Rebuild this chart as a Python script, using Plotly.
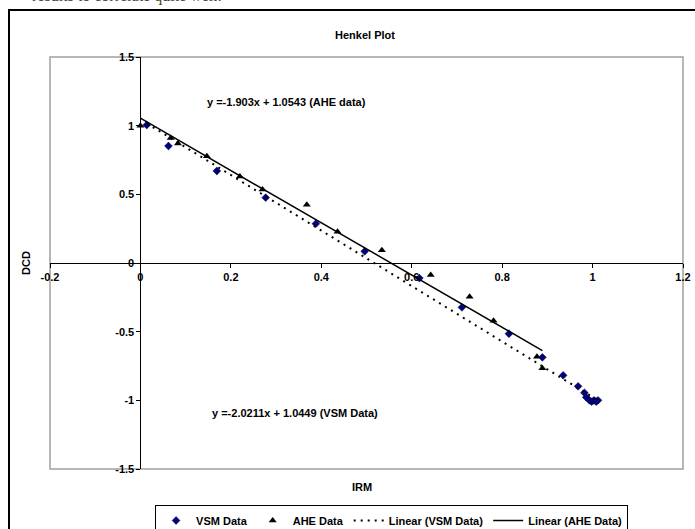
import plotly.graph_objects as go

# ---- data ----
vsm_x = [0.014, 0.062, 0.169, 0.277, 0.388, 0.496, 0.617, 0.711, 0.815, 0.889,
         0.935, 0.968, 0.982, 0.986, 0.993, 0.998, 1.003, 1.008, 1.012]
vsm_y = [1.005, 0.852, 0.670, 0.476, 0.286, 0.085, -0.110, -0.323, -0.515, -0.687,
         -0.818, -0.898, -0.945, -0.978, -1.000, -1.010, -1.000, -1.010, -1.000]

ahe_x = [0.000, 0.067, 0.083, 0.147, 0.220, 0.270, 0.368, 0.436, 0.534, 0.642,
         0.728, 0.781, 0.877, 0.889]
ahe_y = [1.000, 0.910, 0.870, 0.777, 0.630, 0.535, 0.425, 0.228, 0.092, -0.087,
         -0.245, -0.420, -0.682, -0.767]

# trendline equations (as printed on the chart)
vsm_slope, vsm_intercept = -2.0211, 1.0449
ahe_slope, ahe_intercept = -1.903, 1.0543
vsm_fit_x = [min(vsm_x), max(vsm_x)]
ahe_fit_x = [min(ahe_x), max(ahe_x)]
vsm_fit_y = [vsm_slope * v + vsm_intercept for v in vsm_fit_x]
ahe_fit_y = [ahe_slope * v + ahe_intercept for v in ahe_fit_x]

x_ticks = [-0.2, 0, 0.2, 0.4, 0.6, 0.8, 1, 1.2]
x_labels = ["-0.2", "0", "0.2", "0.4", "0.6", "0.8", "1", "1.2"]
y_ticks = [-1.5, -1, -0.5, 0, 0.5, 1, 1.5]
y_labels = ["-1.5", "-1", "-0.5", "0", "0.5", "1", "1.5"]

FONT = "Arial, Liberation Sans, sans-serif"

fig = go.Figure()
fig.add_trace(go.Scatter(x=vsm_x, y=vsm_y, mode="markers", name="VSM Data",
                         marker=dict(symbol="diamond", size=6, color="#000080",
                                     line=dict(color="#000033", width=0.5))))
fig.add_trace(go.Scatter(x=ahe_x, y=ahe_y, mode="markers", name="AHE Data",
                         marker=dict(symbol="triangle-up", size=7, color="black")))
fig.add_trace(go.Scatter(x=vsm_fit_x, y=vsm_fit_y, mode="lines", name="Linear (VSM Data)",
                         line=dict(color="black", width=2, dash="2px,5px")))
fig.add_trace(go.Scatter(x=ahe_fit_x, y=ahe_fit_y, mode="lines", name="Linear (AHE Data)",
                         line=dict(color="black", width=1.5)))

fig.update_layout(
    width=695, height=529,
    margin=dict(l=50, r=12, t=57, b=60, autoexpand=False),
    paper_bgcolor="white", plot_bgcolor="white",
    font=dict(family=FONT, size=11, color="black"),
    showlegend=True,
    legend=dict(orientation="h", x=0.166, y=-0.0874, xanchor="left", yanchor="top",
                bgcolor="white", bordercolor="black", borderwidth=1,
                font=dict(family=FONT, size=11, color="black", weight="bold"),
                tracegroupgap=0, itemwidth=30),
    xaxis=dict(range=[-0.2, 1.2], anchor="free", position=0.5, automargin=False,
               showgrid=False, zeroline=False, showline=True, linecolor="black", linewidth=1,
               ticks="outside", ticklen=4, tickcolor="black",
               tickvals=x_ticks, ticktext=x_labels,
               tickfont=dict(family=FONT, size=11, color="black", weight="bold")),
    yaxis=dict(range=[-1.5, 1.5], anchor="free", position=0.2 / 1.4, automargin=False,
               showgrid=False, zeroline=False, showline=True, linecolor="black", linewidth=1,
               ticks="outside", ticklen=4, tickcolor="black",
               tickvals=y_ticks, ticktext=y_labels,
               tickfont=dict(family=FONT, size=11, color="black", weight="bold")),
)

# plot-area border (gray) and outer chart border (black)
fig.add_shape(type="rect", xref="paper", yref="paper", x0=0, y0=0, x1=1, y1=1,
              line=dict(color="#a0a0a0", width=1.5), layer="below")
fig.add_shape(type="rect", xref="paper", yref="paper",
              x0=(9 - 50) / 633, y0=(469 - 540) / 412, x1=(705 - 50) / 633, y1=(469 - 10) / 412,
              line=dict(color="black", width=2), layer="below")

annos = [
    dict(text="Henkel Plot", x=0.4976, y=(469 - 35) / 412),
    dict(text="DCD", x=(26 - 50) / 633, y=0.5, textangle=-90),
    dict(text="IRM", x=(362 - 50) / 633, y=(469 - 487) / 412),
]
for a in annos:
    fig.add_annotation(xref="paper", yref="paper", showarrow=False,
                       xanchor="center", yanchor="middle",
                       font=dict(family=FONT, size=11, color="black", weight="bold"), **a)

fig.add_annotation(xref="x", yref="y", x=0.322, y=1.173, showarrow=False,
                   text="y =-1.903x + 1.0543 (AHE data)",
                   font=dict(family=FONT, size=11, color="black", weight="bold"))
fig.add_annotation(xref="x", yref="y", x=0.342, y=-1.092, showarrow=False,
                   text="y =-2.0211x + 1.0449 (VSM Data)",
                   font=dict(family=FONT, size=11, color="black", weight="bold"))

# partially cropped text line at the very top of the page
fig.add_annotation(xref="paper", yref="paper", x=(30 - 50) / 633, y=(469 - 7) / 412,
                   xanchor="left", yanchor="bottom", showarrow=False,
                   text="results to correlate quite well.",
                   font=dict(family="Liberation Serif, Times New Roman, serif", size=16, color="#444"))

fig.write_html("out.html", config={"displayModeBar": False},
               post_script="document.body.style.margin='0px';")
